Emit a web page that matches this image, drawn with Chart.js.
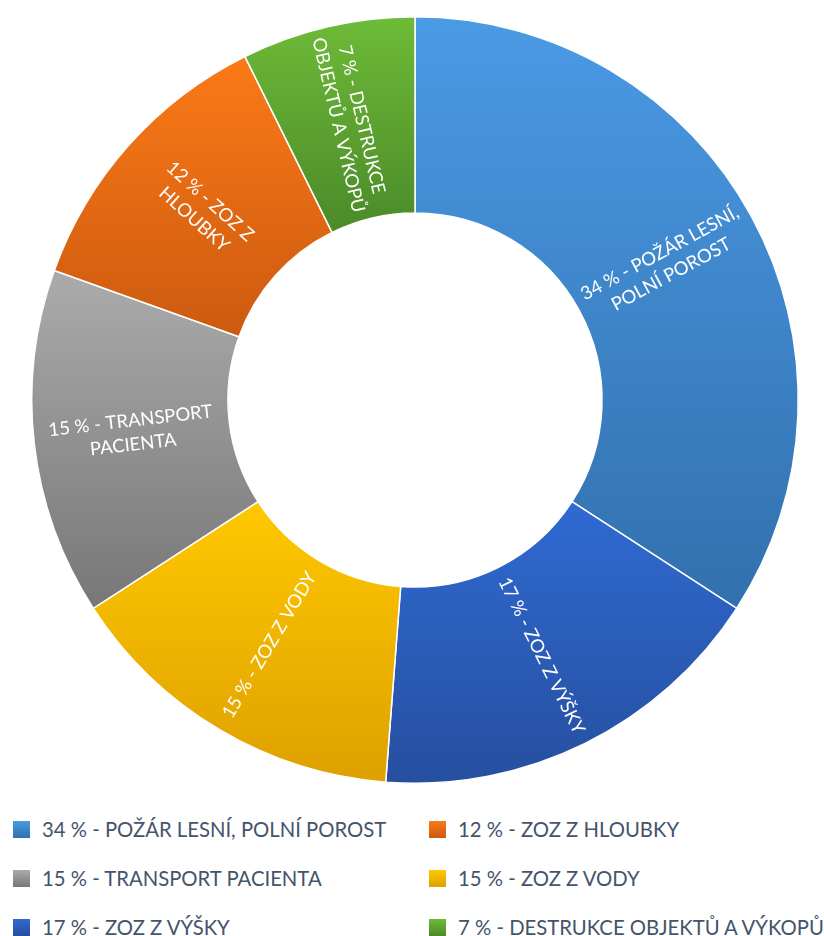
<!DOCTYPE html>
<html>
<head>
<meta charset="utf-8">
<script src="https://cdn.jsdelivr.net/npm/chart.js@4.4.1/dist/chart.umd.min.js"></script>
<style>
  body { margin: 0; background: #fff; font-family: Lato, 'Noto Sans', sans-serif; }
  #wrap { position: relative; width: 824px; height: 936px; }
  #chart-box { position: absolute; left: 0; top: 0; width: 824px; height: 800px; }
  #legend { position: absolute; left: 0; top: 817px; width: 824px; }
  .item { position: absolute; display: flex; align-items: center; color: #44546a; font-size: 20.3px; white-space: nowrap; }
  .swatch { width: 17px; height: 17px; margin-right: 12px; }
</style>
</head>
<body>
<div id="wrap">
  <div id="chart-box"><canvas id="share-chart"></canvas></div>
  <div id="legend"></div>
</div>
<script>
const categories = ['POŽÁR LESNÍ, POLNÍ POROST', 'ZOZ Z VÝŠKY', 'ZOZ Z VODY', 'TRANSPORT PACIENTA', 'ZOZ Z HLOUBKY', 'DESTRUKCE OBJEKTŮ A VÝKOPŮ']
// slice sizes (they match the rounded percentages below)
const counts = [14, 7, 6, 6, 5, 3]
const percentLabels = ['34 %', '17 %', '15 %', '15 %', '12 %', '7 %']
// label lines inside the ring, wrapped like the original
const sliceLines = [
  ['34 % - POŽÁR LESNÍ,', 'POLNÍ POROST'],
  ['17 % - ZOZ Z VÝŠKY'],
  ['15 % - ZOZ Z VODY'],
  ['15 % - TRANSPORT', 'PACIENTA'],
  ['12 % - ZOZ Z', 'HLOUBKY'],
  ['7 % - DESTRUKCE', 'OBJEKTŮ A VÝKOPŮ']
]
const topColors = ['#4a9ae4', '#2f6ad2', '#ffc800', '#ababab', '#fb7a17', '#6ebb38']
const bottomColors = ['#3270ae', '#264f9f', '#dea000', '#777777', '#cc5a10', '#4b8a29']
// legend reads row by row
const legendOrder = [0, 4, 3, 2, 1, 5]

const cutoutRatio = 0.488
const total = counts.reduce((a, b) => a + b, 0)

const sliceGradient = (ctx) => {
  const i = ctx.dataIndex
  const chart = ctx.chart
  const area = chart.chartArea
  if (!area) return topColors[i]
  const cy = (area.top + area.bottom) / 2
  const R = Math.min(area.width, area.height) / 2
  const r = R * cutoutRatio
  const before = counts.slice(0, i).reduce((a, b) => a + b, 0)
  const start = -Math.PI / 2 + 2 * Math.PI * before / total
  const end = start + 2 * Math.PI * counts[i] / total
  let minY = Infinity, maxY = -Infinity
  for (let k = 0; k <= 60; k++) {
    const a = start + (end - start) * k / 60
    for (const rad of [r, R]) {
      const y = cy + rad * Math.sin(a)
      minY = Math.min(minY, y)
      maxY = Math.max(maxY, y)
    }
  }
  const g = chart.ctx.createLinearGradient(0, minY, 0, maxY)
  g.addColorStop(0, topColors[i])
  g.addColorStop(1, bottomColors[i])
  return g
}

const ringLabels = {
  id: 'ringLabels',
  afterDatasetsDraw(chart) {
    const c = chart.ctx
    const arcs = chart.getDatasetMeta(0).data
    c.save()
    c.fillStyle = '#ffffff'
    c.font = '18.5px Lato, "Noto Sans", sans-serif'
    c.textAlign = 'center'
    c.textBaseline = 'middle'
    arcs.forEach((arc, i) => {
      const p = arc.getCenterPoint()
      let rot = (arc.startAngle + arc.endAngle) / 2
      while (rot > Math.PI) rot -= 2 * Math.PI
      while (rot < -Math.PI) rot += 2 * Math.PI
      if (rot > Math.PI / 2) rot -= Math.PI
      if (rot < -Math.PI / 2) rot += Math.PI
      const lines = sliceLines[i]
      const lh = 24
      c.save()
      c.translate(p.x, p.y)
      c.rotate(rot)
      lines.forEach((t, j) => {
        c.fillText(t, 0, (j - (lines.length - 1) / 2) * lh)
      })
      c.restore()
    })
    c.restore()
  }
}

const chart = new Chart(document.getElementById('share-chart'), {
  type: 'doughnut',
  data: {
    labels: categories,
    datasets: [{
      data: counts,
      backgroundColor: sliceGradient,
      borderColor: '#ffffff',
      borderWidth: 1.5
    }]
  },
  options: {
    responsive: true,
    maintainAspectRatio: false,
    animation: false,
    cutout: (cutoutRatio * 100) + '%',
    layout: { padding: { left: 6, right: 0, top: 16, bottom: 16 } },
    plugins: {
      legend: { display: false },
      tooltip: { enabled: false }
    }
  },
  plugins: [ringLabels]
})

const legendBox = document.getElementById('legend')
legendOrder.forEach((idx, n) => {
  const col = n % 2
  const row = Math.floor(n / 2)
  const item = document.createElement('div')
  item.className = 'item'
  item.style.left = (col === 0 ? 13 : 429) + 'px'
  item.style.top = (row * 49) + 'px'
  const sw = document.createElement('span')
  sw.className = 'swatch'
  sw.style.background = `linear-gradient(${topColors[idx]}, ${bottomColors[idx]})`
  const tx = document.createElement('span')
  tx.textContent = `${percentLabels[idx]} - ${categories[idx]}`
  item.appendChild(sw)
  item.appendChild(tx)
  legendBox.appendChild(item)
})
</script>
</body>
</html>
